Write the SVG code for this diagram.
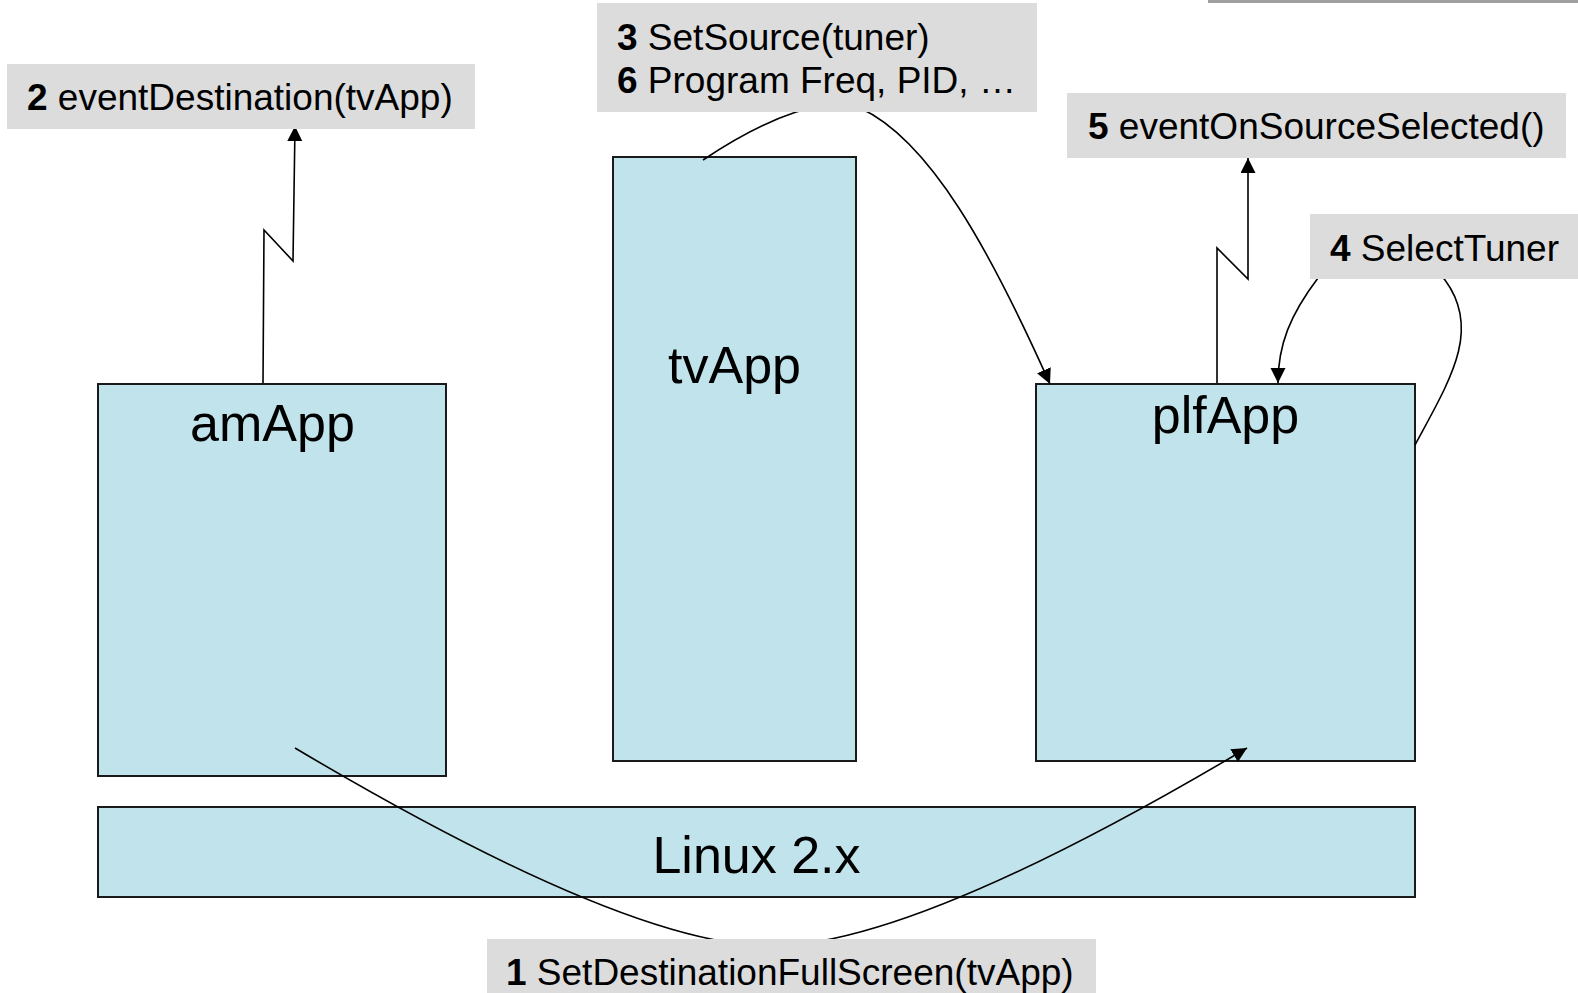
<svg xmlns="http://www.w3.org/2000/svg" width="1578" height="993" viewBox="0 0 1578 993">
  <style>
    .box { fill: #c1e3eb; stroke: #1a1a1a; stroke-width: 2; }
    .name { font-family: "Liberation Sans", Arial, sans-serif; font-size: 52px; fill: #000; text-anchor: middle; }
    .tag { fill: #dcdcdc; }
    .tagtext { font-family: "Liberation Sans", Arial, sans-serif; font-size: 37px; fill: #000; }
    .tagtext tspan.n { font-weight: bold; }
    .wire { fill: none; stroke: #000; stroke-width: 1.6; }
  </style>
  <defs>
    <marker id="head" markerUnits="userSpaceOnUse" markerWidth="16" markerHeight="16" refX="15" refY="7.5" orient="auto">
      <path d="M0,0 L15,7.5 L0,15 Z" fill="#000"/>
    </marker>
  </defs>

  <rect width="1578" height="993" fill="#fff"/>
  <rect x="1208" y="0" width="370" height="3" fill="#a0a0a0"/>

  <!-- application blocks -->
  <g id="amApp">
    <rect class="box" x="98" y="384" width="348" height="392"/>
    <text class="name" x="272.5" y="441">amApp</text>
  </g>
  <g id="tvApp">
    <rect class="box" x="613" y="157" width="243" height="604"/>
    <text class="name" x="734.5" y="383">tvApp</text>
  </g>
  <g id="plfApp">
    <rect class="box" x="1036" y="384" width="379" height="377"/>
    <text class="name" x="1225.5" y="433">plfApp</text>
  </g>
  <g id="linux">
    <rect class="box" x="98" y="807" width="1317" height="90"/>
    <text class="name" x="756.5" y="873">Linux 2.x</text>
  </g>

  <!-- calls and events -->
  <g id="connectors">
    <path class="wire" d="M295,748 Q628,946 771,946 Q914,946 1247,748" marker-end="url(#head)"/>
    <path class="wire" d="M263,383 L264,230 L293,261 L295,126" marker-end="url(#head)"/>
    <path class="wire" d="M703,160 C770,115 830,95 860,108 C930,140 990,250 1050,384" marker-end="url(#head)"/>
    <path class="wire" d="M1415,445 C1450,380 1482,330 1445,280 C1422,248 1340,248 1318,278 C1290,315 1278,345 1278,383" marker-end="url(#head)"/>
    <path class="wire" d="M1217,383 L1217,248 L1248,279 L1248,158" marker-end="url(#head)"/>
  </g>

  <!-- call labels -->
  <g id="label1">
    <rect class="tag" x="487" y="939" width="609" height="54"/>
    <text class="tagtext" x="506" y="985"><tspan class="n">1</tspan> SetDestinationFullScreen(tvApp)</text>
  </g>
  <g id="label2">
    <rect class="tag" x="7" y="64" width="468" height="65"/>
    <text class="tagtext" x="27" y="110"><tspan class="n">2</tspan> eventDestination(tvApp)</text>
  </g>
  <g id="label3">
    <rect class="tag" x="597" y="3" width="440" height="109"/>
    <text class="tagtext" x="617" y="50"><tspan class="n">3</tspan> SetSource(tuner)</text>
    <text class="tagtext" x="617" y="93"><tspan class="n">6</tspan> Program Freq, PID, …</text>
  </g>
  <g id="label4">
    <rect class="tag" x="1310" y="214" width="268" height="65"/>
    <text class="tagtext" x="1330" y="261"><tspan class="n">4</tspan> SelectTuner</text>
  </g>
  <g id="label5">
    <rect class="tag" x="1067" y="93" width="499" height="65"/>
    <text class="tagtext" x="1088" y="139"><tspan class="n">5</tspan> eventOnSourceSelected()</text>
  </g>
</svg>
